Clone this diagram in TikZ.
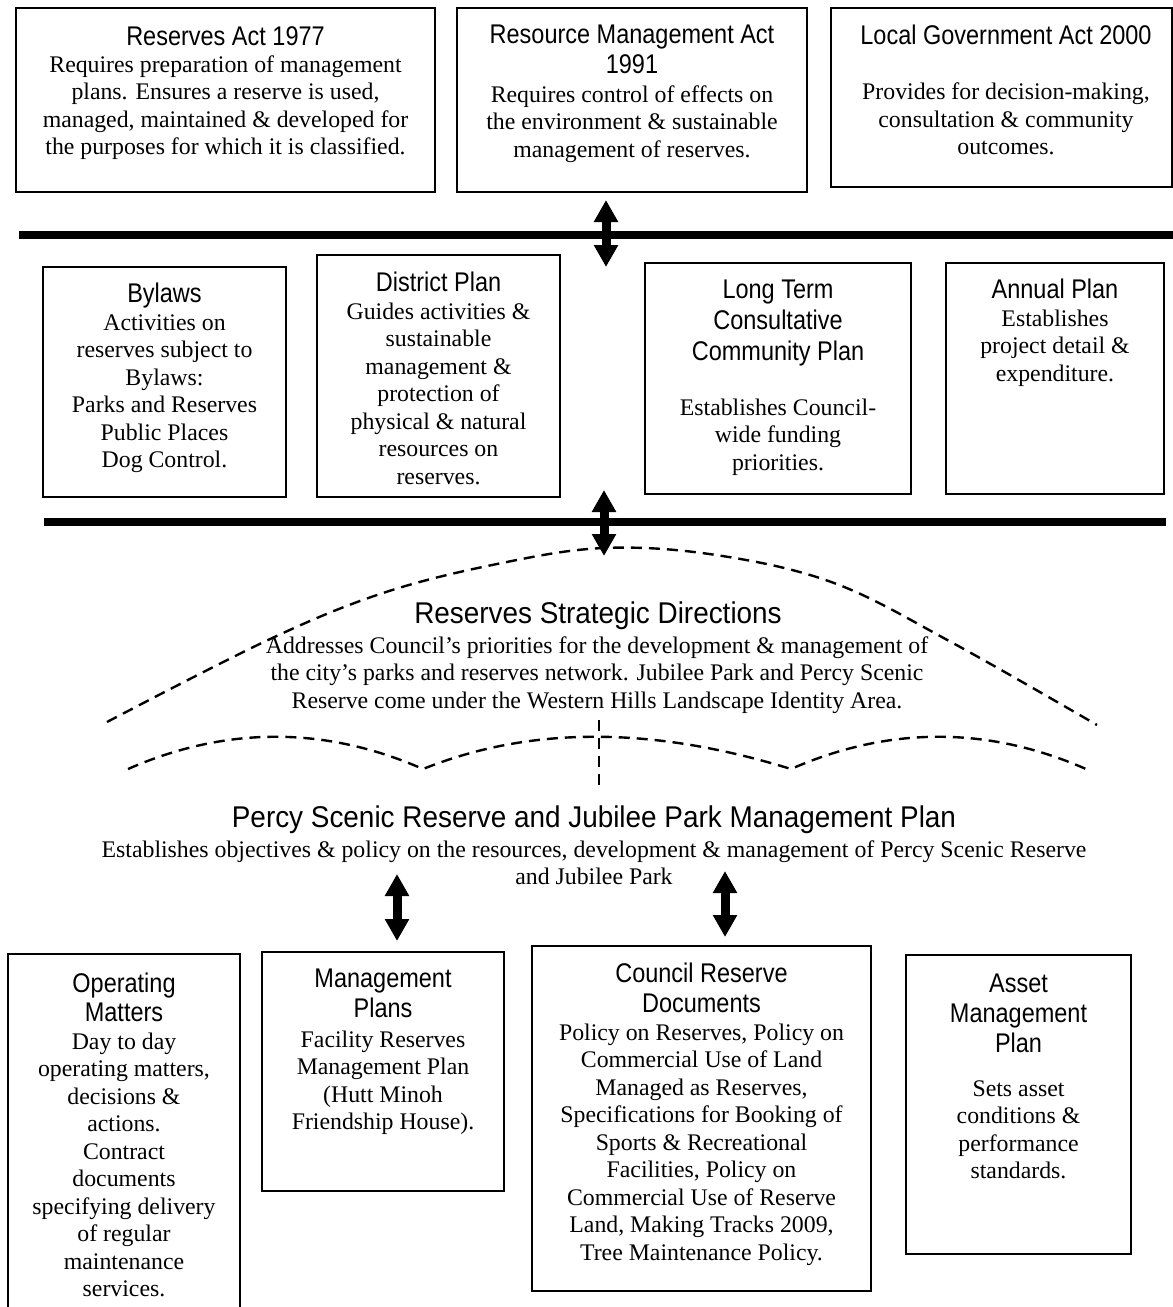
\documentclass[tikz,border=0pt]{standalone}
\usepackage{fontspec}
\setmainfont{Liberation Serif}
\newfontfamily\hfont[FakeStretch=0.87]{Liberation Sans}
\newfontfamily\bigtfont[FakeStretch=0.93]{Liberation Sans}
\usetikzlibrary{arrows.meta}
% note: for multi-line nodes the base anchor is the baseline of the LAST line
\tikzset{
  box/.style={draw, line width=1.8pt, inner sep=0pt, outer sep=0pt, anchor=north west},
  ttl/.style={align=center, font=\hfont\fontsize{27}{30}\selectfont, inner sep=0pt, anchor=base},
  txt/.style={align=center, font=\fontsize{23.8}{27.5}\selectfont, inner sep=0pt, anchor=base},
  bigttl/.style={align=center, font=\bigtfont\fontsize{30}{32}\selectfont, inner sep=0pt, anchor=base},
  bar/.style={line width=7.5pt},
  dbl/.style={line width=9pt, {Triangle[width=23pt,length=22pt]}-{Triangle[width=23pt,length=22pt]}},
  dsh/.style={line width=2.4pt, dash pattern=on 11pt off 7pt}
}
\begin{document}
\begin{tikzpicture}[x=1pt,y=-1pt]
\useasboundingbox[fill=white] (0,0) rectangle (1173,1307);

% ---------- top row ----------
\node[box, minimum width=419pt, minimum height=184pt] (b1) at (16,8) {};
\node[box, minimum width=350pt, minimum height=184pt] (b2) at (457,8) {};
\node[box, minimum width=341pt, minimum height=179pt] (b3) at (831,8) {};

\node[ttl] (t1) at (225.5,45) {Reserves Act 1977};
\node[txt] (x1) at (225.5,154.5) {Requires preparation of management\\plans. Ensures a reserve is used,\\managed, maintained \& developed for\\the purposes for which it is classified.};

\node[ttl] (t2) at (632,73) {Resource Management Act\\1991};
\node[txt] (x2) at (632,157) {Requires control of effects on\\the environment \& sustainable\\management of reserves.};

\node[ttl] (t3) at (1006,44) {Local Government Act 2000};
\node[txt] (x3) at (1006,154.5) {Provides for decision-making,\\consultation \& community\\outcomes.};

% ---------- bar 1 ----------
\coordinate (l1a) at (19,235);
\coordinate (l1b) at (1173,235);
\draw[bar] (l1a) -- (l1b);
\coordinate (a1t) at (606,200);
\coordinate (a1b) at (606,267);
\draw[dbl] (a1t) -- (a1b);

% ---------- middle row ----------
\node[box, minimum width=243pt, minimum height=230pt] (b4) at (43,267) {};
\node[box, minimum width=243pt, minimum height=242pt] (b5) at (317,255) {};
\node[box, minimum width=266pt, minimum height=231pt] (b6) at (645,263) {};
\node[box, minimum width=218pt, minimum height=231pt] (b7) at (946,263) {};

\node[ttl] (t4) at (164.5,302) {Bylaws};
\node[txt] (x4) at (164.5,467.5) {Activities on\\reserves subject to\\Bylaws:\\Parks and Reserves\\Public Places\\Dog Control.};

\node[ttl] (t5) at (438.5,291) {District Plan};
\node[txt] (x5) at (438.5,484) {Guides activities \&\\sustainable\\management \&\\protection of\\physical \& natural\\resources on\\reserves.};

\node[ttl, font=\hfont\fontsize{27}{31}\selectfont] (t6) at (778,360) {Long Term\\Consultative\\Community Plan};
\node[txt] (x6) at (778,470) {Establishes Council-\\wide funding\\priorities.};

\node[ttl] (t7) at (1055,298) {Annual Plan};
\node[txt] (x7) at (1055,381) {Establishes\\project detail \&\\expenditure.};

% ---------- bar 2 ----------
\coordinate (l2a) at (44,522);
\coordinate (l2b) at (1166,522);
\draw[bar] (l2a) -- (l2b);
\coordinate (a2t) at (604,490);
\coordinate (a2b) at (604,556);
\draw[dbl] (a2t) -- (a2b);

% ---------- strategic directions ----------
\draw[dsh] plot[smooth, tension=0.6] coordinates {(107,722) (268,640) (383,593) (497,564) (604,548) (716,555) (834,583) (951,642) (1097,725)};
\node[bigttl] (t8) at (598,623) {Reserves Strategic Directions};
\node[txt] (x8) at (597,708) {Addresses Council’s priorities for the development \& management of\\the city’s parks and reserves network. Jubilee Park and Percy Scenic\\Reserve come under the Western Hills Landscape Identity Area.};

\coordinate (w0) at (128,769);
\coordinate (w1) at (423,769);
\coordinate (w2) at (791,769);
\coordinate (w3) at (1086,769);
\draw[dsh] (w0) .. controls (226,726) and (325,726) .. (w1)
               .. controls (530,726) and (652,726) .. (w2)
               .. controls (889,726) and (988,726) .. (w3);
\coordinate (v1) at (599,720);
\coordinate (v2) at (599,785);
\draw[dsh] (v1) -- (v2);

% ---------- management plan ----------
\node[bigttl] (t9) at (594,827) {Percy Scenic Reserve and Jubilee Park Management Plan};
\node[txt] (x9) at (594,884.5) {Establishes objectives \& policy on the resources, development \& management of Percy Scenic Reserve\\and Jubilee Park};

\coordinate (a3t) at (397,874);
\coordinate (a3b) at (397,941);
\draw[dbl] (a3t) -- (a3b);
\coordinate (a4t) at (725,871);
\coordinate (a4b) at (725,937);
\draw[dbl] (a4t) -- (a4b);

% ---------- bottom row ----------
\coordinate (o1) at (8,1312);
\coordinate (o2) at (8,954);
\coordinate (o3) at (240,954);
\coordinate (o4) at (240,1312);
\draw[line width=1.8pt] (o1) -- (o2) -- (o3) -- (o4);
\node[box, minimum width=242pt, minimum height=239pt] (b11) at (262,952) {};
\node[box, minimum width=339pt, minimum height=345pt] (b12) at (532,946) {};
\node[box, minimum width=225pt, minimum height=299pt] (b13) at (906,955) {};

\node[ttl, font=\hfont\fontsize{27}{29}\selectfont] (t10) at (124,1021) {Operating\\Matters};
\node[txt] (x10) at (124,1296.5) {Day to day\\operating matters,\\decisions \&\\actions.\\Contract\\documents\\specifying delivery\\of regular\\maintenance\\services.};

\node[ttl] (t11) at (383,1017) {Management\\Plans};
\node[txt] (x11) at (383,1129.5) {Facility Reserves\\Management Plan\\(Hutt Minoh\\Friendship House).};

\node[ttl] (t12) at (701.5,1012) {Council Reserve\\Documents};
\node[txt] (x12) at (701.5,1260) {Policy on Reserves, Policy on\\Commercial Use of Land\\Managed as Reserves,\\Specifications for Booking of\\Sports \& Recreational\\Facilities, Policy on\\Commercial Use of Reserve\\Land, Making Tracks 2009,\\Tree Maintenance Policy.};

\node[ttl] (t13) at (1018.5,1052) {Asset\\Management\\Plan};
\node[txt] (x13) at (1018.5,1178.5) {Sets asset\\conditions \&\\performance\\standards.};
\end{tikzpicture}
\end{document}
